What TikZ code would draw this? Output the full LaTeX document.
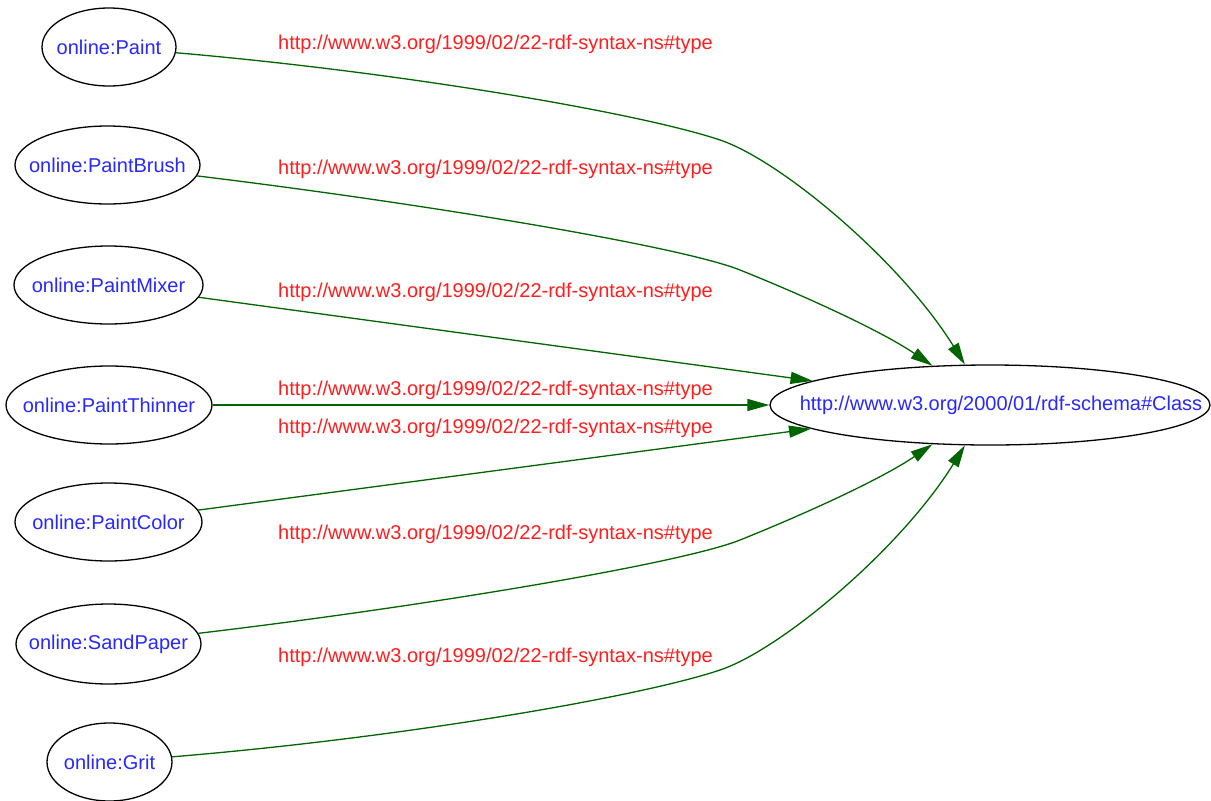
\documentclass[tikz,border=0pt]{standalone}
\usepackage{fontspec}
\setmainfont{Liberation Sans}
\usetikzlibrary{shapes.geometric,arrows.meta}
\definecolor{nodeblue}{RGB}{40,40,255}
\definecolor{labelred}{RGB}{255,30,30}
\definecolor{edgegreen}{RGB}{0,100,0}
\begin{document}
\begin{tikzpicture}[x=1pt,y=-1pt,
  res/.style={ellipse, draw=black, line width=1.3pt, inner sep=0pt, text=nodeblue,
    font=\fontsize{20}{24}\selectfont, minimum height=78pt},
  lbl/.style={text=labelred, font=\fontsize{20}{24}\selectfont, anchor=base, inner sep=0pt},
  rel/.style={draw=edgegreen, line width=1.3pt, -{Triangle[length=22pt,width=12pt]}}]
\fill[white] (0,0) rectangle (1211,801);
\useasboundingbox (0,0) rectangle (1211,801);

\node[res, minimum width=134pt] (paint) at (109,47) {\makebox[0pt]{online:Paint}};
\node[res, minimum width=185pt] (brush) at (107.5,165) {\makebox[0pt]{online:PaintBrush}};
\node[res, minimum width=189pt] (mixer) at (108.5,285) {\makebox[0pt]{online:PaintMixer}};
\node[res, minimum width=206pt] (thinner) at (109,405) {\makebox[0pt]{online:PaintThinner}};
\node[res, minimum width=187pt] (color) at (108.5,522) {\makebox[0pt]{online:PaintColor}};
\node[res, minimum width=185pt, minimum height=80pt] (sand) at (108.5,644) {\makebox[0pt]{online:SandPaper}};
\node[res, minimum width=125pt] (grit) at (109.5,762) {\makebox[0pt]{online:Grit}};
\node[res, minimum width=440pt, minimum height=80pt] (cls) at (990,405) {\makebox[0pt]{\hspace{22pt}http://www.w3.org/2000/01/rdf-schema\#Class}};

\node[lbl] (l1) at (495.5,49) {http://www.w3.org/1999/02/22-rdf-syntax-ns\#type};
\node[lbl] (l2) at (495.5,174) {http://www.w3.org/1999/02/22-rdf-syntax-ns\#type};
\node[lbl] (l3) at (495.5,297) {http://www.w3.org/1999/02/22-rdf-syntax-ns\#type};
\node[lbl] (l4) at (495.5,395) {http://www.w3.org/1999/02/22-rdf-syntax-ns\#type};
\node[lbl] (l5) at (495.5,433) {http://www.w3.org/1999/02/22-rdf-syntax-ns\#type};
\node[lbl] (l6) at (495.5,539) {http://www.w3.org/1999/02/22-rdf-syntax-ns\#type};
\node[lbl] (l7) at (495.5,662) {http://www.w3.org/1999/02/22-rdf-syntax-ns\#type};

\draw[rel] (paint) .. controls (400,72) and (640,113) .. (720,140) .. controls (780,160) and (900,260) .. (cls);
\draw[rel] (brush) .. controls (420,203) and (680,246) .. (740,270) .. controls (800,294) and (880,330) .. (cls);
\draw[rel] (mixer) -- (cls);
\draw[rel] (thinner) -- (cls);
\draw[rel] (color) -- (cls);
\draw[rel] (sand) .. controls (420,607) and (680,564) .. (740,540) .. controls (800,516) and (880,480) .. (cls);
\draw[rel] (grit) .. controls (400,738) and (640,697) .. (720,670) .. controls (780,650) and (900,550) .. (cls);
\end{tikzpicture}
\end{document}
